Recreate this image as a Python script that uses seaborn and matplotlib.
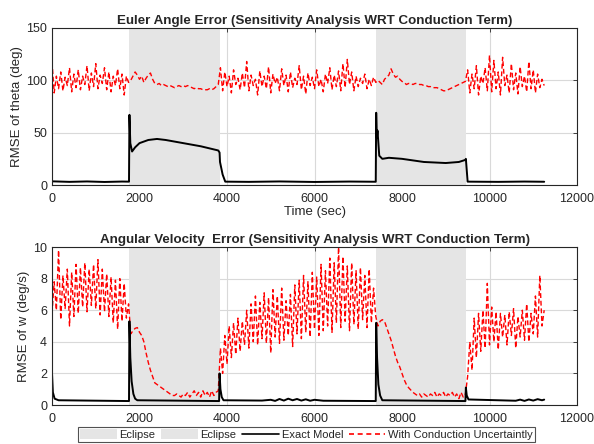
import numpy as np
import pandas as pd
import matplotlib
matplotlib.use("Agg")
import matplotlib.pyplot as plt
from matplotlib.patches import Patch
from matplotlib.lines import Line2D
import seaborn as sns

# ---------------- data ----------------
eclipse_periods = [(1770, 3830), (7410, 9460)]

# red series sampled every 50 s from 0 to 11250
red_time = np.arange(0, 11251, 50)

theta_red = [
    # 0 .. 1750
    118, 88, 104, 92, 108, 90, 103, 95, 112, 89, 106, 93, 110, 91, 104, 96, 114, 90, 107, 94,
    116, 92, 105, 97, 112, 91, 108, 89, 104, 95, 111, 92, 106, 86, 104, 98,
    # 1800 .. 3800 (eclipse)
    100, 104, 108, 105, 101, 104, 98, 102, 105, 107, 101, 97, 96, 97, 95, 96, 95, 94, 95, 94,
    93, 94, 95, 94, 95, 94, 95, 94, 93, 92, 93, 92, 92, 91, 91, 91, 92, 91, 92, 94, 96,
    # 3850 .. 7400
    112, 90, 108, 94, 104, 88, 110, 96, 102, 91, 107, 93, 118, 90, 105, 95, 101, 86, 109, 94,
    104, 92, 113, 88, 106, 97, 103, 90, 111, 95, 105, 89, 108, 93, 102, 96, 114, 91, 104, 87,
    107, 95, 103, 92, 110, 94, 101, 89, 106, 97, 112, 91, 105, 94, 109, 90, 116, 93, 120, 96,
    108, 90, 104, 94, 102, 97, 106, 92, 101, 95, 103, 98,
    # 7450 .. 9450 (eclipse)
    100, 98, 96, 101, 103, 105, 111, 106, 103, 104, 101, 99, 98, 96, 97, 97, 96, 97, 97, 96,
    96, 95, 95, 94, 94, 93, 93, 93, 92, 91, 90, 90, 91, 92, 93, 94, 95, 96, 97, 98, 99,
    # 9500 .. 11250
    110, 88, 106, 92, 114, 86, 104, 97, 112, 90, 124, 89, 119, 92, 108, 86, 122, 95, 105, 88,
    116, 91, 107, 87, 113, 94, 104, 89, 118, 92, 110, 88, 106, 93, 101, 95,
]

w_red = [
    # 0 .. 1750
    5.8, 7.8, 6.0, 9.8, 5.4, 8.2, 6.1, 8.6, 5.0, 8.4, 5.6, 8.9, 5.8, 8.7, 6.2, 9.0, 5.9, 8.6, 6.3, 8.9,
    6.1, 9.2, 5.7, 8.6, 5.9, 8.3, 5.6, 8.1, 5.2, 7.9, 4.8, 8.0, 5.3, 7.7, 5.5, 6.4,
    # 1800 .. 3800 (eclipse)
    4.5, 4.7, 4.85, 4.9, 4.6, 4.4, 4.0, 3.3, 2.7, 2.2, 1.8, 1.4, 1.3, 1.2, 1.1, 1.0, 0.9, 0.8, 0.7, 0.6,
    0.6, 0.7, 0.6, 0.5, 0.7, 0.6, 0.8, 0.5, 0.7, 0.9, 0.6, 0.8, 0.5, 0.9, 0.6, 0.8, 0.5, 0.9, 0.6, 0.8, 0.9,
    # 3850 .. 7400
    3.6, 2.0, 4.4, 2.6, 5.0, 3.0, 5.2, 3.2, 5.5, 3.4, 5.3, 3.8, 6.0, 3.6, 6.4, 4.0, 6.9, 3.8, 6.5, 4.2,
    7.1, 3.9, 6.8, 3.3, 7.3, 4.3, 6.9, 3.9, 7.4, 4.1, 6.6, 4.4, 7.0, 3.7, 7.6, 4.5, 7.9, 4.2, 8.2, 4.6,
    7.8, 4.3, 8.4, 4.8, 8.1, 4.4, 8.9, 4.7, 8.5, 5.0, 9.3, 4.6, 9.0, 5.2, 10.0, 4.9, 9.4, 5.3, 8.8, 4.7,
    9.0, 5.1, 8.5, 4.8, 8.7, 5.4, 8.2, 4.9, 8.6, 5.2, 7.4, 5.6,
    # 7450 .. 9450 (eclipse)
    5.0, 5.3, 5.4, 5.3, 4.9, 4.5, 4.1, 3.6, 3.1, 2.7, 2.4, 2.0, 1.6, 1.3, 1.1, 0.95, 0.8, 0.7, 0.6, 0.7,
    0.5, 0.7, 0.6, 0.5, 0.7, 0.6, 0.8, 0.5, 0.7, 0.6, 0.8, 0.5, 0.7, 0.6, 0.8, 0.5, 0.7, 0.4, 0.8, 0.5, 0.7,
    # 9500 .. 11250
    1.8, 4.0, 2.2, 5.5, 3.0, 5.8, 3.4, 6.0, 3.6, 7.7, 3.8, 6.2, 4.0, 5.9, 3.5, 5.8, 4.3, 5.7, 3.8, 5.9,
    4.4, 6.1, 3.6, 5.6, 4.3, 6.0, 4.1, 6.4, 4.0, 5.8, 4.5, 6.9, 4.3, 8.2, 5.0, 6.0,
]

theta_black_time = [0, 400, 800, 1200, 1600, 1760, 1770, 1790, 1830, 1900, 2000, 2200, 2400, 2600,
                    3000, 3400, 3800, 3830, 3840, 3900, 3960, 4500, 5200, 6000, 6800, 7400,
                    7410, 7425, 7440, 7480, 7550, 7700, 8000, 8500, 9000, 9300, 9450, 9460,
                    9500, 10200, 10800, 11250]
theta_black = [3.5, 3.0, 3.4, 2.9, 3.3, 3.2, 67, 40, 32, 36, 40, 43, 44, 43,
               40, 37, 33, 31, 22, 10, 3.2, 3.0, 3.4, 2.9, 3.3, 3.1,
               69, 45, 52, 28, 25, 26, 25, 22, 21, 22, 24, 25,
               3.2, 3.0, 3.3, 3.1]

w_black_time = [0, 20, 60, 150, 1760, 1770, 1790, 1820, 1860, 1900, 1950, 3820, 3830, 3850,
                3880, 3920, 4800, 5000, 5100, 5200, 5300, 5400, 5500, 5600, 5700, 5800, 5900,
                6000, 6200, 7400, 7410, 7430, 7460, 7500, 7550, 9450, 9460, 9480, 9520,
                10600, 10700, 10800, 10900, 11000, 11100, 11200, 11250]
w_black = [2.0, 0.8, 0.4, 0.3, 0.25, 5.3, 3.0, 1.5, 0.7, 0.4, 0.3, 0.25, 2.0, 1.0,
           0.5, 0.3, 0.28, 0.33, 0.26, 0.38, 0.28, 0.4, 0.3, 0.38, 0.28, 0.36, 0.27,
           0.33, 0.27, 0.25, 5.2, 3.0, 1.3, 0.6, 0.3, 0.25, 1.1, 0.6, 0.35,
           0.27, 0.34, 0.26, 0.35, 0.28, 0.37, 0.3, 0.34]

# ---------------- style ----------------
sns.set_theme(style="white")
plt.rcParams["font.family"] = ["Liberation Sans", "DejaVu Sans"]
plt.rcParams["axes.linewidth"] = 0.8

fig = plt.figure(figsize=(5.94, 4.44), dpi=100)
ax1 = fig.add_axes([52 / 594, 1 - 185 / 444, 525 / 594, 157 / 444])
ax2 = fig.add_axes([52 / 594, 1 - 405 / 444, 525 / 594, 158 / 444])

df_red = pd.DataFrame({"t": red_time, "theta": theta_red, "w": w_red})
df_tb = pd.DataFrame({"t": theta_black_time, "v": theta_black})
df_wb = pd.DataFrame({"t": w_black_time, "v": w_black})

fill_col = "#e5e5e5"
red_ls = (0, (3.5, 2.0))
txt_col = "#262626"

for ax, ycol, dfb, ymax, ystep, ylabel, title in [
    (ax1, "theta", df_tb, 150, 50, "RMSE of theta (deg)",
     "Euler Angle Error (Sensitivity Analysis WRT Conduction Term)"),
    (ax2, "w", df_wb, 10, 2, "RMSE of w (deg/s)",
     "Angular Velocity  Error (Sensitivity Analysis WRT Conduction Term)"),
]:
    for (a, b) in eclipse_periods:
        ax.axvspan(a, b, color=fill_col, lw=0, zorder=1)
    sns.lineplot(data=df_red, x="t", y=ycol, ax=ax, color="red", lw=1.0,
                 linestyle=red_ls, estimator=None, sort=False, zorder=3)
    sns.lineplot(data=dfb, x="t", y="v", ax=ax, color="black", lw=1.4,
                 estimator=None, sort=False, zorder=4)
    ax.set_xlim(0, 12000)
    ax.set_ylim(0, ymax)
    ax.set_xticks(np.arange(0, 12001, 2000))
    ax.set_yticks(np.arange(0, ymax + 0.01, ystep))
    ax.grid(True, color="#d9d9d9", lw=0.8, zorder=0)
    ax.set_axisbelow(True)
    ax.tick_params(direction="in", length=3, width=0.6, top=True, right=True,
                   labelsize=9, colors=txt_col)
    ax.tick_params(axis="x", pad=5.5)
    ax.tick_params(axis="y", pad=3.5)
    for s in ax.spines.values():
        s.set_color(txt_col)
        s.set_zorder(5)
    ax.set_ylabel(ylabel, fontsize=9.5, color=txt_col, labelpad=2)
    ax.set_xlabel("")
    ax.set_title(title, fontsize=9.6, fontweight="bold", pad=3)

ax1.set_xlabel("Time (sec)", fontsize=9.5, color=txt_col, labelpad=1)

handles = [Patch(facecolor=fill_col, edgecolor="none"),
           Patch(facecolor=fill_col, edgecolor="none"),
           Line2D([], [], color="black", lw=1.2),
           Line2D([], [], color="red", lw=1.2, linestyle=(0, (3, 2.2)))]
labels = ["Eclipse", "Eclipse", "Exact Model", "With Conduction Uncertaintly"]
leg = fig.legend(handles, labels, loc="center", bbox_to_anchor=(306.5 / 594, 1 - 434.5 / 444),
                 ncol=4, fontsize=8, frameon=True, fancybox=False, edgecolor=txt_col,
                 handlelength=3.3, handleheight=0.9, handletextpad=0.25, columnspacing=0.5,
                 borderpad=0.2, borderaxespad=0)
leg.get_frame().set_linewidth(0.8)
for t in leg.get_texts():
    t.set_color(txt_col)

fig.savefig("out.png", dpi=100)
